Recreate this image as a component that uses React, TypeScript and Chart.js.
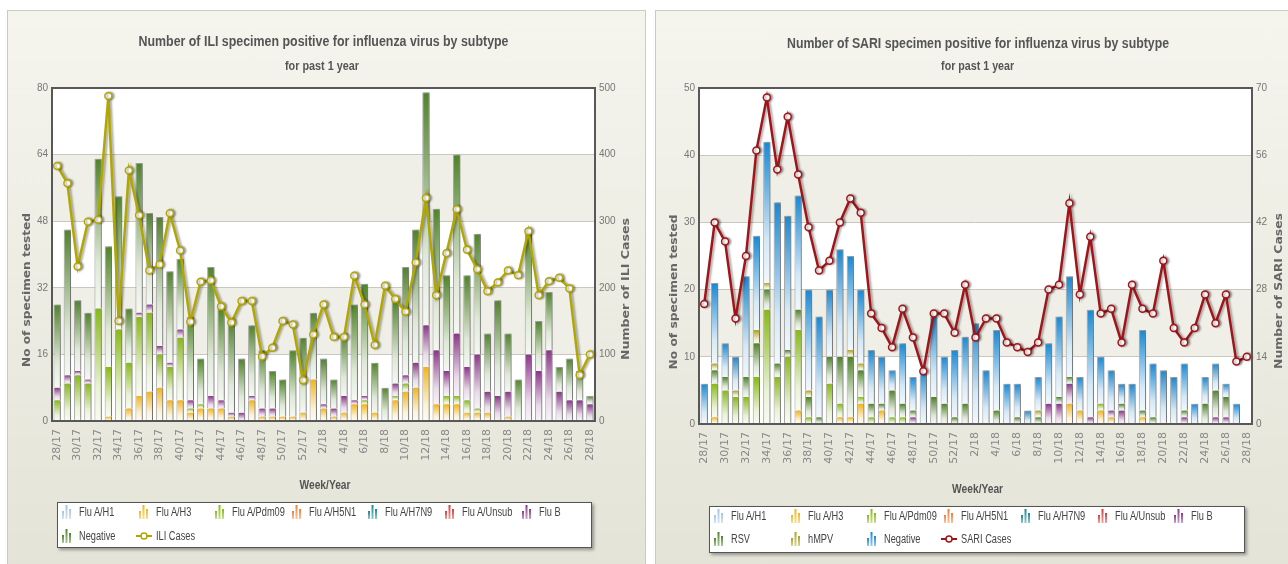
import React, { useEffect, useRef } from "react";
import { Chart, registerables } from "chart.js";

Chart.register(...registerables);

// ---------- DATA ----------
const WEEKS = ["28/17","29/17","30/17","31/17","32/17","33/17","34/17","35/17","36/17","37/17","38/17","39/17","40/17","41/17","42/17","43/17","44/17","45/17","46/17","47/17","48/17","49/17","50/17","51/17","52/17","1/18","2/18","3/18","4/18","5/18","6/18","7/18","8/18","9/18","10/18","11/18","12/18","13/18","14/18","15/18","16/18","17/18","18/18","19/18","20/18","21/18","22/18","23/18","24/18","25/18","26/18","27/18","28/18"];

const ZEROS = [0,0,0,0,0,0,0,0,0,0,0,0,0,0,0,0,0,0,0,0,0,0,0,0,0,0,0,0,0,0,0,0,0,0,0,0,0,0,0,0,0,0,0,0,0,0,0,0,0,0,0,0,0];

// ILI chart
const ILI_H3 = [0,0,0,0,0,1,0,3,6,7,8,5,5,2,3,3,3,1,0,5,1,1,1,1,2,10,3,1,2,4,4,2,0,5,7,8,13,4,4,4,2,2,2,0,1,0,0,0,0,0,0,0,0];
const ILI_PDM09 = [5,9,11,9,27,12,22,11,19,19,8,8,15,1,1,0,0,0,0,0,0,0,0,0,0,0,0,0,0,0,1,0,0,1,2,0,0,0,2,2,3,1,0,0,0,0,0,0,0,0,0,0,0];
const ILI_FLUB = [3,2,1,1,0,0,0,0,1,2,2,1,2,2,0,3,2,1,2,1,2,2,0,0,0,0,1,2,4,1,1,0,0,3,2,6,10,13,6,15,8,13,5,6,6,0,16,12,17,7,5,5,4];
const ILI_NEG = [20,35,17,16,36,29,32,13,36,22,31,22,17,20,11,31,22,22,13,17,14,9,9,16,18,16,11,7,15,23,27,12,8,20,26,32,56,34,23,43,22,29,14,23,14,10,30,12,14,6,10,7,2];
const ILI_CASES = [383,357,232,299,302,488,150,376,309,226,235,312,256,149,209,211,172,148,180,180,97,110,150,145,61,130,175,126,126,218,175,114,203,183,164,238,335,189,252,318,257,228,195,208,226,219,285,189,210,215,199,69,100];

// SARI chart
const SARI_H3 = [0,1,0,0,0,0,0,0,0,2,0,0,0,1,1,3,0,2,0,0,0,0,0,0,0,0,0,0,0,0,0,0,0,0,0,3,2,0,2,1,0,0,1,0,0,0,0,0,0,0,0,0,0];
const SARI_PDM09 = [0,5,5,4,4,7,17,7,10,12,1,0,6,2,0,1,1,0,1,1,0,0,0,0,0,0,0,0,0,0,0,0,0,0,0,0,0,0,1,0,0,0,0,0,0,0,0,0,0,0,0,0,0];
const SARI_FLUB = [0,0,0,0,0,0,0,0,0,0,0,0,0,0,0,0,0,0,0,0,1,0,0,0,0,0,0,0,0,0,0,0,0,3,3,3,0,1,0,1,2,0,0,0,0,0,1,0,0,1,1,0,0];
const SARI_RSV = [0,2,2,0,3,5,3,2,1,3,3,1,4,7,9,4,2,1,4,2,1,0,4,3,1,3,0,0,2,0,1,0,1,0,1,1,0,0,0,0,1,0,1,1,0,0,1,0,3,4,3,0,0];
const SARI_HMPV = [0,1,0,1,0,2,1,0,0,0,1,0,0,0,1,1,0,0,0,0,0,0,0,0,0,0,0,0,0,0,0,0,1,0,0,0,0,0,0,0,0,0,0,0,0,0,0,0,0,0,0,0,0];
const SARI_NEG = [6,12,5,5,15,14,21,24,20,17,15,15,10,16,14,11,8,7,3,9,5,8,12,7,10,10,15,8,12,6,5,2,5,9,12,15,5,16,7,6,3,6,12,8,8,7,7,3,4,4,2,3,0];
const SARI_CASES = [25,42,38,22,35,57,68,53,64,52,41,32,34,42,47,44,23,20,16,24,18,11,23,23,19,29,18,22,22,17,16,15,17,28,29,46,27,39,23,24,17,29,24,23,34,20,17,20,27,21,27,13,14];

const ILI_Y_TICKS = [0, 80, 16];
const ILI_Y1_TICKS = [0, 500, 100];
const SARI_Y_TICKS = [0, 50, 10];
const SARI_Y1_TICKS = [0, 70, 14];

// ---------- STYLE ----------
const SANS = '"Liberation Sans", Arial, sans-serif';
const WIDE = '"DejaVu Sans", Verdana, sans-serif';

const C = {
  h1: "#a3c4e6",
  h3: "#f2b41a",
  pdm: "#86b816",
  h5: "#ee7d3a",
  h7: "#17878f",
  unsub: "#cf3b3b",
  flub: "#8a3688",
  neg: "#4f8229",
  ili: "#b2a700",
  rsv: "#4f8229",
  hmpv: "#a9a11f",
  negBlue: "#1887d2",
  sari: "#a0151a",
};

function mix(hex: string, t: number) {
  const a = parseInt(hex.slice(1), 16);
  const r = Math.round(((a >> 16) & 255) * (1 - t) + 255 * t);
  const g = Math.round(((a >> 8) & 255) * (1 - t) + 255 * t);
  const b = Math.round((a & 255) * (1 - t) + 255 * t);
  return `rgb(${r},${g},${b})`;
}

function barFill(color: string) {
  return (c: any) => {
    if (c.type !== "data") return color;
    const chart = c.chart;
    const ys = chart.scales.y;
    if (!ys || !chart.chartArea) return color;
    const i = c.dataIndex;
    let base = 0;
    for (let d = 0; d < c.datasetIndex; d++) {
      const ds: any = chart.data.datasets[d];
      if (ds.type === "line") continue;
      base += ds.data[i] || 0;
    }
    const v = chart.data.datasets[c.datasetIndex].data[i] || 0;
    const top = ys.getPixelForValue(base + v);
    const bot = ys.getPixelForValue(base);
    if (!(bot > top + 0.5)) return color;
    const g = chart.ctx.createLinearGradient(0, top, 0, bot);
    g.addColorStop(0, color);
    g.addColorStop(0.7, mix(color, 0.82));
    g.addColorStop(1, mix(color, 0.94));
    return g;
  };
}

function barDs(label: string, data: number[], color: string, isTop: boolean, pct: number) {
  return {
    type: "bar",
    label,
    data,
    yAxisID: "y",
    stack: "s",
    order: 1,
    backgroundColor: barFill(color),
    borderColor: "#a4a4a4",
    borderSkipped: false,
    borderWidth: { left: 1, right: 1, top: isTop ? 1 : 0, bottom: 0 },
    barPercentage: pct,
    categoryPercentage: 1,
  };
}

function lineDs(label: string, data: number[], color: string) {
  return {
    type: "line",
    label,
    data,
    yAxisID: "y1",
    order: 0,
    borderColor: color,
    borderWidth: 2.5,
    backgroundColor: color,
    tension: 0,
    pointRadius: 3.5,
    pointBackgroundColor: "#ffffff",
    pointBorderColor: color,
    pointBorderWidth: 1.5,
  };
}

const decorPlugin = {
  id: "decor",
  beforeDraw(chart: any) {
    const { ctx, chartArea: a, scales } = chart;
    const y = scales.y;
    ctx.save();
    ctx.fillStyle = "#ffffff";
    ctx.fillRect(a.left, a.top, a.right - a.left, a.bottom - a.top);
    ctx.fillStyle = "#efefe7";
    const t = y.ticks;
    for (let k = 1; k < t.length - 1; k += 2) {
      const p0 = y.getPixelForValue(t[k].value);
      const p1 = y.getPixelForValue(t[k + 1].value);
      ctx.fillRect(a.left, p1, a.right - a.left, p0 - p1);
    }
    ctx.restore();
  },
  beforeDatasetsDraw(chart: any) {
    const ctx = chart.ctx;
    ctx.save();
    ctx.shadowColor = "rgba(0,0,0,0.32)";
    ctx.shadowBlur = 2;
    ctx.shadowOffsetX = 2;
    ctx.shadowOffsetY = 0;
  },
  afterDatasetsDraw(chart: any) {
    chart.ctx.restore();
  },
  afterDraw(chart: any, _a: any, opts: any) {
    const { ctx, chartArea: a } = chart;
    ctx.save();
    ctx.strokeStyle = "#585858";
    ctx.lineWidth = 2;
    ctx.strokeRect(a.left, a.top, a.right - a.left, a.bottom - a.top);
    ctx.textAlign = "center";
    ctx.textBaseline = "middle";
    for (const t of opts.texts || []) {
      ctx.save();
      ctx.font = t.font;
      ctx.fillStyle = t.color;
      const w = ctx.measureText(t.text).width;
      const s = t.w ? t.w / w : 1;
      ctx.translate(t.x, t.y);
      if (t.rot) ctx.rotate(-Math.PI / 2);
      ctx.scale(s, 1);
      ctx.fillText(t.text, 0, 0);
      ctx.restore();
    }
    ctx.restore();
  },
};

function makeConfig(p: any) {
  const tickFont = { family: SANS, size: 10 };
  return {
    data: { labels: WEEKS, datasets: p.datasets },
    plugins: [decorPlugin],
    options: {
      responsive: false,
      animation: false,
      events: [],
      layout: { padding: { left: 0, right: 0, top: 78, bottom: 0 } },
      plugins: {
        legend: { display: false },
        tooltip: { enabled: false },
        decor: { texts: p.texts },
      },
      scales: {
        x: {
          stacked: true,
          grid: { display: false, drawTicks: false },
          border: { display: false },
          ticks: {
            autoSkip: false,
            minRotation: 90,
            maxRotation: 90,
            padding: 8,
            color: "#888",
            font: { family: WIDE, size: 11 },
            callback: function (this: any, v: any, i: number) {
              return i % 2 === 0 ? this.getLabelForValue(v) : "";
            },
          },
          afterFit: (s: any) => { s.height = p.xHeight; },
        },
        y: {
          stacked: true,
          min: p.yTicks[0],
          max: p.yTicks[1],
          ticks: { stepSize: p.yTicks[2], padding: 4, color: "#777", font: tickFont },
          grid: { color: "#c8c8c0", drawTicks: false },
          border: { display: false },
          afterFit: (s: any) => { s.width = p.yWidth; },
        },
        y1: {
          position: "right",
          min: p.y1Ticks[0],
          max: p.y1Ticks[1],
          ticks: { stepSize: p.y1Ticks[2], padding: 4, color: "#777", font: tickFont },
          grid: { drawOnChartArea: false, drawTicks: false },
          border: { display: false },
          afterFit: (s: any) => { s.width = p.y1Width; },
        },
      },
    },
  };
}

const TITLE_FONT = `bold 14.5px ${SANS}`;
const SUB_FONT = `bold 12px ${SANS}`;
const XT_FONT = `bold 13px ${SANS}`;
const AXIS_FONT = `bold 11px ${WIDE}`;

function iliConfig() {
  const pct = 0.72;
  return makeConfig({
    xHeight: 490 - 411,
    yWidth: 45,
    y1Width: 51,
    yTicks: ILI_Y_TICKS,
    y1Ticks: ILI_Y1_TICKS,
    texts: [
      { text: "Number of ILI specimen positive for influenza virus by subtype", x: 316.5, y: 32, font: TITLE_FONT, color: "#555", w: 370 },
      { text: "for past 1 year", x: 315, y: 56.5, font: SUB_FONT, color: "#555", w: 74 },
      { text: "Week/Year", x: 318, y: 475, font: XT_FONT, color: "#555", w: 51 },
      { text: "No of specimen tested", x: 20, y: 280, font: AXIS_FONT, color: "#666", w: 154, rot: true },
      { text: "Number of ILI Cases", x: 619, y: 279, font: AXIS_FONT, color: "#666", w: 142, rot: true },
    ],
    datasets: [
      barDs("Flu A/H1", ZEROS, C.h1, false, pct),
      barDs("Flu A/H3", ILI_H3, C.h3, false, pct),
      barDs("Flu A/Pdm09", ILI_PDM09, C.pdm, false, pct),
      barDs("Flu A/H5N1", ZEROS, C.h5, false, pct),
      barDs("Flu A/H7N9", ZEROS, C.h7, false, pct),
      barDs("Flu A/Unsub", ZEROS, C.unsub, false, pct),
      barDs("Flu B", ILI_FLUB, C.flub, false, pct),
      barDs("Negative", ILI_NEG, C.neg, true, pct),
      lineDs("ILI Cases", ILI_CASES, C.ili),
    ],
  });
}

function sariConfig() {
  const pct = 0.7;
  return makeConfig({
    xHeight: 490 - 414,
    yWidth: 44,
    y1Width: 36,
    yTicks: SARI_Y_TICKS,
    y1Ticks: SARI_Y1_TICKS,
    texts: [
      { text: "Number of SARI specimen positive for influenza virus by subtype", x: 323, y: 33.5, font: TITLE_FONT, color: "#555", w: 382 },
      { text: "for past 1 year", x: 322.6, y: 56.5, font: SUB_FONT, color: "#555", w: 73 },
      { text: "Week/Year", x: 322.6, y: 479.5, font: XT_FONT, color: "#555", w: 51 },
      { text: "No of specimen tested", x: 19.5, y: 282, font: AXIS_FONT, color: "#666", w: 155, rot: true },
      { text: "Number of SARI Cases", x: 624, y: 281, font: AXIS_FONT, color: "#666", w: 156, rot: true },
    ],
    datasets: [
      barDs("Flu A/H1", ZEROS, C.h1, false, pct),
      barDs("Flu A/H3", SARI_H3, C.h3, false, pct),
      barDs("Flu A/Pdm09", SARI_PDM09, C.pdm, false, pct),
      barDs("Flu A/H5N1", ZEROS, C.h5, false, pct),
      barDs("Flu A/H7N9", ZEROS, C.h7, false, pct),
      barDs("Flu A/Unsub", ZEROS, C.unsub, false, pct),
      barDs("Flu B", SARI_FLUB, C.flub, false, pct),
      barDs("RSV", SARI_RSV, C.rsv, false, pct),
      barDs("hMPV", SARI_HMPV, C.hmpv, false, pct),
      barDs("Negative", SARI_NEG, C.negBlue, true, pct),
      lineDs("SARI Cases", SARI_CASES, C.sari),
    ],
  });
}

// ---------- LEGENDS ----------
const ILI_LEGEND: [string, string, string][] = [
  ["Flu A/H1", C.h1, "bar"], ["Flu A/H3", C.h3, "bar"], ["Flu A/Pdm09", C.pdm, "bar"],
  ["Flu A/H5N1", C.h5, "bar"], ["Flu A/H7N9", C.h7, "bar"], ["Flu A/Unsub", C.unsub, "bar"],
  ["Flu B", C.flub, "bar"], ["Negative", C.neg, "bar"], ["ILI Cases", C.ili, "line"],
];
const SARI_LEGEND: [string, string, string][] = [
  ["Flu A/H1", C.h1, "bar"], ["Flu A/H3", C.h3, "bar"], ["Flu A/Pdm09", C.pdm, "bar"],
  ["Flu A/H5N1", C.h5, "bar"], ["Flu A/H7N9", C.h7, "bar"], ["Flu A/Unsub", C.unsub, "bar"],
  ["Flu B", C.flub, "bar"], ["RSV", C.rsv, "bar"], ["hMPV", C.hmpv, "bar"],
  ["Negative", C.negBlue, "bar"], ["SARI Cases", C.sari, "line"],
];

function Icon({ color, kind, x, y }: any) {
  const id = "lg" + color.replace("#", "");
  if (kind === "line") {
    return (
      <svg width="16" height="12" style={{ position: "absolute", left: x - 3, top: y - 6 }}>
        <line x1="0" y1="6" x2="16" y2="6" stroke={color} strokeWidth="2" />
        <circle cx="8" cy="6" r="3" fill="#fff" stroke={color} strokeWidth="1.5" />
      </svg>
    );
  }
  return (
    <svg width="10" height="14" style={{ position: "absolute", left: x, top: y - 7 }}>
      <defs>
        <linearGradient id={id} x1="0" y1="0" x2="0" y2="1">
          <stop offset="0" stopColor={color} />
          <stop offset="1" stopColor={mix(color, 0.55)} />
        </linearGradient>
      </defs>
      <rect x="0" y="6" width="2" height="8" fill={`url(#${id})`} />
      <rect x="3.5" y="0" width="2" height="14" fill={`url(#${id})`} />
      <rect x="7" y="4" width="2" height="10" fill={`url(#${id})`} />
    </svg>
  );
}

function Legend({ items, box, textX0, step, rows }: any) {
  return (
    <>
      <div
        style={{
          position: "absolute", left: box[0], top: box[1], width: box[2], height: box[3],
          background: "#fff", border: "1px solid #555", boxSizing: "border-box",
          boxShadow: "2px 2px 3px rgba(0,0,0,0.35)",
        }}
      />
      {items.map((it: any, i: number) => {
        const col = i % 7;
        const row = Math.floor(i / 7);
        const tx = textX0 + col * step;
        const ty = rows[row];
        return (
          <React.Fragment key={i}>
            <Icon color={it[1]} kind={it[2]} x={tx - 17} y={ty} />
            <span
              style={{
                position: "absolute", left: tx, top: ty - 8, lineHeight: "16px",
                fontFamily: SANS, fontSize: 12, color: "#444", whiteSpace: "nowrap",
                transform: "scaleX(0.77)", transformOrigin: "0 50%",
              }}
            >
              {it[0]}
            </span>
          </React.Fragment>
        );
      })}
    </>
  );
}

function ChartCanvas({ make, left, top, width, height }: any) {
  const ref = useRef<HTMLCanvasElement>(null);
  useEffect(() => {
    const chart = new Chart(ref.current as HTMLCanvasElement, make() as any);
    return () => chart.destroy();
  }, []);
  return (
    <canvas
      ref={ref}
      width={width}
      height={height}
      style={{ position: "absolute", left, top, width, height }}
    />
  );
}

const panelStyle = (left: number, width: number): React.CSSProperties => ({
  position: "absolute",
  left,
  top: 10,
  width,
  height: 570,
  boxSizing: "border-box",
  border: "1px solid #cbcbc2",
  background: "linear-gradient(#f5f5ee, #e3e3d7)",
});

export default function App() {
  return (
    <div
      style={{
        position: "absolute", left: 0, top: 0, width: 1288, height: 564,
        overflow: "hidden", background: "#fff",
      }}
    >
      <div style={panelStyle(7, 639)} />
      <div style={panelStyle(655, 650)} />
      <ChartCanvas make={iliConfig} left={7} top={10} width={639} height={490} />
      <ChartCanvas make={sariConfig} left={655} top={10} width={633} height={490} />
      <Legend items={ILI_LEGEND} box={[57, 502, 535, 46]} textX0={79} step={76.6} rows={[512, 536]} />
      <Legend items={SARI_LEGEND} box={[709, 506, 536, 47]} textX0={731} step={76.7} rows={[516, 539]} />
    </div>
  );
}
